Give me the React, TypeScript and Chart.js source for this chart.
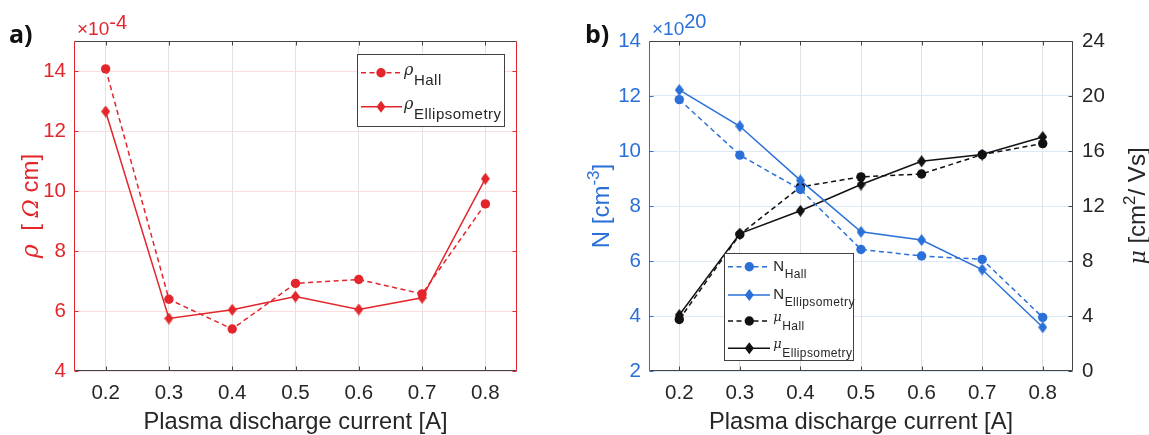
import React, { useEffect, useRef } from 'react';
import { Chart, registerables } from 'chart.js';

Chart.register(...registerables);

// ---------- data ----------
const currents = [0.2, 0.3, 0.4, 0.5, 0.6, 0.7, 0.8];
const xTickLabels = ['0.2', '0.3', '0.4', '0.5', '0.6', '0.7', '0.8'];
const rhoHall = [14.07, 6.39, 5.4, 6.92, 7.05, 6.57, 9.57];
const rhoEllipsometry = [12.65, 5.75, 6.04, 6.48, 6.05, 6.44, 10.41];
const nHall = [11.87, 9.85, 8.6, 6.42, 6.18, 6.06, 3.95];
const nEllipsometry = [12.22, 10.9, 8.93, 7.06, 6.76, 5.69, 3.59];
const muHall = [3.75, 9.93, 13.39, 14.12, 14.33, 15.74, 16.54];
const muEllipsometry = [4.07, 10.0, 11.65, 13.56, 15.25, 15.74, 17.02];
const rhoTicks = [4, 6, 8, 10, 12, 14];
const nTicks = [2, 4, 6, 8, 10, 12, 14];
const muTicks = [0, 4, 8, 12, 16, 20, 24];

// ---------- styles ----------
const RED = '#e3262b';
const BLUE = '#2a70d8';
const BLACK = '#111111';
const AXIS_GRAY = '#444444';
const TEXT_DARK = '#262626';
const SANS = '"Liberation Sans", Arial, sans-serif';
const SERIF = '"DejaVu Serif", "Liberation Serif", serif';
const DASH = [5, 3.5];
const TICK_FONT = { family: SANS, size: 20.5 };

function makeDiamond(color: string, w: number, h: number) {
  const c = document.createElement('canvas');
  c.width = w;
  c.height = h;
  const g = c.getContext('2d')!;
  g.fillStyle = color;
  g.beginPath();
  g.moveTo(w / 2, 0);
  g.lineTo(w, h / 2);
  g.lineTo(w / 2, h);
  g.lineTo(0, h / 2);
  g.closePath();
  g.fill();
  return c;
}

function drawMarker(ctx: CanvasRenderingContext2D, kind: string, x: number, y: number, color: string) {
  ctx.save();
  ctx.fillStyle = color;
  ctx.beginPath();
  if (kind === 'circle') {
    ctx.arc(x, y, 4.7, 0, Math.PI * 2);
  } else {
    ctx.moveTo(x, y - 6);
    ctx.lineTo(x + 4.5, y);
    ctx.lineTo(x, y + 6);
    ctx.lineTo(x - 4.5, y);
    ctx.closePath();
  }
  ctx.fill();
  ctx.restore();
}

type Seg = { t: string; font: string; dy?: number; color: string; ls?: string };

function drawSegs(ctx: CanvasRenderingContext2D, segs: Seg[], x: number, y: number, rotate: boolean, center: boolean) {
  ctx.save();
  ctx.translate(x, y);
  if (rotate) ctx.rotate(-Math.PI / 2);
  ctx.textBaseline = 'alphabetic';
  ctx.textAlign = 'left';
  let total = 0;
  const widths: number[] = [];
  for (const s of segs) {
    ctx.font = s.font;
    (ctx as any).letterSpacing = s.ls || '0px';
    const w = ctx.measureText(s.t).width;
    widths.push(w);
    total += w;
  }
  let cx = center ? -total / 2 : 0;
  segs.forEach((s, i) => {
    ctx.font = s.font;
    (ctx as any).letterSpacing = s.ls || '0px';
    ctx.fillStyle = s.color;
    ctx.fillText(s.t, cx, s.dy || 0);
    cx += widths[i];
  });
  ctx.restore();
}

type YTickSpec = { id: string; values: number[]; color: string; left: boolean; right: boolean };

function drawFrame(chart: any, colors: { top: string; bottom: string; left: string; right: string }, ySpecs: YTickSpec[]) {
  const { ctx, chartArea: a } = chart;
  const L = Math.round(a.left) + 0.5;
  const R = Math.round(a.right) - 0.5;
  const T = Math.round(a.top) + 0.5;
  const B = Math.round(a.bottom) - 0.5;
  ctx.save();
  ctx.lineWidth = 1;
  ctx.setLineDash([]);
  const line = (x1: number, y1: number, x2: number, y2: number, c: string) => {
    ctx.strokeStyle = c;
    ctx.beginPath();
    ctx.moveTo(x1, y1);
    ctx.lineTo(x2, y2);
    ctx.stroke();
  };
  const xs = chart.scales.x;
  for (const v of currents) {
    const px = Math.round(xs.getPixelForValue(v)) + 0.5;
    line(px, B, px, B - 4, colors.bottom);
    line(px, T, px, T + 4, colors.top);
  }
  for (const s of ySpecs) {
    const sc = chart.scales[s.id];
    for (const v of s.values) {
      const py = Math.round(sc.getPixelForValue(v)) + 0.5;
      if (s.left) line(L, py, L + 4, py, s.color);
      if (s.right) line(R, py, R - 4, py, s.color);
    }
  }
  line(L, T, R, T, colors.top);
  line(L, B, R, B, colors.bottom);
  line(L, T, L, B, colors.left);
  line(R, T, R, B, colors.right);
  ctx.restore();
}

type LegendEntry = {
  color: string;
  dashed: boolean;
  marker: string;
  main: string;
  mainFont: string;
  mainDy: number;
  sub: string;
  subFont: string;
  subDy: number;
  y: number;
};

function drawLegend(
  ctx: CanvasRenderingContext2D,
  box: { x: number; y: number; w: number; h: number },
  entries: LegendEntry[],
  lineX0: number,
  lineX1: number,
  markerX: number,
  textX: number,
  subLs: string
) {
  ctx.save();
  ctx.fillStyle = '#ffffff';
  ctx.fillRect(box.x, box.y, box.w, box.h);
  ctx.strokeStyle = '#404040';
  ctx.lineWidth = 1;
  ctx.strokeRect(Math.round(box.x) + 0.5, Math.round(box.y) + 0.5, Math.round(box.w), Math.round(box.h));
  for (const e of entries) {
    ctx.strokeStyle = e.color;
    ctx.lineWidth = 1.5;
    ctx.setLineDash(e.dashed ? DASH : []);
    ctx.beginPath();
    ctx.moveTo(lineX0, e.y);
    ctx.lineTo(lineX1, e.y);
    ctx.stroke();
    ctx.setLineDash([]);
    drawMarker(ctx, e.marker, markerX, e.y, e.color);
    ctx.font = e.mainFont;
    const w = ctx.measureText(e.main).width;
    drawSegs(ctx, [{ t: e.main, font: e.mainFont, dy: e.mainDy, color: TEXT_DARK }], textX, e.y, false, false);
    drawSegs(ctx, [{ t: e.sub, font: e.subFont, dy: e.subDy, color: TEXT_DARK, ls: subLs }], textX + w + 0.5, e.y, false, false);
  }
  ctx.restore();
}

const xScaleBase = (x: any) => ({
  type: 'linear',
  min: 0.15,
  max: 0.85,
  afterBuildTicks: (s: any) => {
    s.ticks = currents.map((v) => ({ value: v }));
  },
  afterFit: (s: any) => {
    s.height = 64;
  },
  ticks: {
    color: TEXT_DARK,
    font: TICK_FONT,
    padding: 10,
    maxRotation: 0,
    autoSkip: false,
    callback: (_v: any, i: number) => xTickLabels[i],
  },
  grid: { color: '#e2e2e2', lineWidth: 1, drawTicks: false },
  border: { display: false },
  title: {
    display: true,
    text: 'Plasma discharge current [A]',
    color: TEXT_DARK,
    font: { family: SANS, size: 23.7, lineHeight: 1 },
    padding: { top: 0, bottom: 0.5 },
  },
  ...x,
});

function PanelA() {
  const ref = useRef<HTMLCanvasElement>(null);
  useEffect(() => {
    const diamond = makeDiamond(RED, 9, 12);
    const deco = {
      id: 'decoA',
      beforeDatasetsDraw(chart: any) {
        drawFrame(chart, { top: AXIS_GRAY, bottom: AXIS_GRAY, left: RED, right: RED }, [
          { id: 'y', values: rhoTicks, color: RED, left: true, right: true },
        ]);
      },
      afterDraw(chart: any) {
        const ctx = chart.ctx;
        drawSegs(ctx, [{ t: 'a)', font: `bold 25px "Open Sans", ${SANS}`, color: '#111' }], 9, 43, false, false);
        drawSegs(
          ctx,
          [
            { t: '×10', font: `19px ${SANS}`, color: RED },
            { t: '-4', font: `20px ${SANS}`, color: RED, dy: -6 },
          ],
          77,
          35,
          false,
          false
        );
        drawSegs(
          ctx,
          [
            { t: 'ρ', font: `italic 24px ${SERIF}`, color: RED },
            { t: '  [ ', font: `24px ${SANS}`, color: RED },
            { t: 'Ω', font: `italic 22px ${SERIF}`, color: RED },
            { t: ' cm]', font: `24px ${SANS}`, color: RED },
          ],
          38,
          206,
          true,
          true
        );
        drawLegend(
          ctx,
          { x: 357, y: 54, w: 147, h: 72 },
          [
            { color: RED, dashed: true, marker: 'circle', main: 'ρ', mainFont: `italic 16px ${SERIF}`, mainDy: 2.5, sub: 'Hall', subFont: `15px ${SANS}`, subDy: 12.3, y: 72.7 },
            { color: RED, dashed: false, marker: 'diamond', main: 'ρ', mainFont: `italic 16px ${SERIF}`, mainDy: 2.5, sub: 'Ellipsometry', subFont: `15px ${SANS}`, subDy: 12.3, y: 106.7 },
          ],
          361,
          402,
          381,
          404,
          '0.5px'
        );
      },
    };
    const chart = new Chart(ref.current!, {
      type: 'line',
      data: {
        datasets: [
          {
            data: currents.map((x, i) => ({ x, y: rhoHall[i] })),
            borderColor: RED,
            backgroundColor: RED,
            borderWidth: 1.5,
            borderDash: DASH,
            pointStyle: 'circle',
            pointRadius: 4.7,
            pointBorderWidth: 0,
          },
          {
            data: currents.map((x, i) => ({ x, y: rhoEllipsometry[i] })),
            borderColor: RED,
            backgroundColor: RED,
            borderWidth: 1.5,
            pointStyle: diamond,
            pointRadius: 6,
            pointBorderWidth: 0,
          },
        ],
      },
      options: {
        responsive: false,
        animation: false,
        layout: { padding: { left: 0, top: 41, right: 43, bottom: 0 } },
        plugins: { legend: { display: false }, tooltip: { enabled: false } },
        scales: {
          x: xScaleBase({}),
          y: {
            type: 'linear',
            min: 4,
            max: 15,
            afterBuildTicks: (s: any) => {
              s.ticks = rhoTicks.map((v) => ({ value: v }));
            },
            afterFit: (s: any) => {
              s.width = 74;
            },
            ticks: { color: RED, font: TICK_FONT, padding: 8, callback: (v: any) => String(v) },
            grid: { color: '#fbdcdc', lineWidth: 1, drawTicks: false },
            border: { display: false },
          },
        },
      } as any,
      plugins: [deco],
    });
    return () => chart.destroy();
  }, []);
  return <canvas ref={ref} width={560} height={435} style={{ position: 'absolute', left: 0, top: 0, width: 560, height: 435 }} />;
}

function PanelB() {
  const ref = useRef<HTMLCanvasElement>(null);
  useEffect(() => {
    const diamondBlue = makeDiamond(BLUE, 9, 12);
    const diamondBlack = makeDiamond(BLACK, 9, 12);
    const deco = {
      id: 'decoB',
      beforeDatasetsDraw(chart: any) {
        drawFrame(chart, { top: AXIS_GRAY, bottom: AXIS_GRAY, left: BLUE, right: AXIS_GRAY }, [
          { id: 'yN', values: nTicks, color: BLUE, left: true, right: false },
          { id: 'yMu', values: muTicks, color: AXIS_GRAY, left: false, right: true },
        ]);
      },
      afterDraw(chart: any) {
        const ctx = chart.ctx;
        drawSegs(ctx, [{ t: 'b)', font: `bold 25px "Open Sans", ${SANS}`, color: '#111' }], 10, 43, false, false);
        drawSegs(
          ctx,
          [
            { t: '×10', font: `19px ${SANS}`, color: BLUE },
            { t: '20', font: `20px ${SANS}`, color: BLUE, dy: -7 },
          ],
          77,
          35,
          false,
          false
        );
        drawSegs(
          ctx,
          [
            { t: 'N [cm', font: `24px ${SANS}`, color: BLUE },
            { t: '-3', font: `17px ${SANS}`, color: BLUE, dy: -10 },
            { t: ']', font: `24px ${SANS}`, color: BLUE },
          ],
          34,
          206,
          true,
          true
        );
        drawSegs(
          ctx,
          [
            { t: 'μ', font: `italic 22px ${SERIF}`, color: TEXT_DARK },
            { t: ' [cm', font: `24px ${SANS}`, color: TEXT_DARK },
            { t: '2', font: `17px ${SANS}`, color: TEXT_DARK, dy: -10 },
            { t: '/ Vs]', font: `24px ${SANS}`, color: TEXT_DARK },
          ],
          570,
          206,
          true,
          true
        );
        drawLegend(
          ctx,
          { x: 149.3, y: 253.3, w: 129, h: 106.7 },
          [
            { color: BLUE, dashed: true, marker: 'circle', main: 'N', mainFont: `15px ${SANS}`, mainDy: 4, sub: 'Hall', subFont: `12px ${SANS}`, subDy: 11.3, y: 266.7 },
            { color: BLUE, dashed: false, marker: 'diamond', main: 'N', mainFont: `15px ${SANS}`, mainDy: 4, sub: 'Ellipsometry', subFont: `12px ${SANS}`, subDy: 11.3, y: 295 },
            { color: BLACK, dashed: true, marker: 'circle', main: 'μ', mainFont: `italic 13px ${SERIF}`, mainDy: 0, sub: 'Hall', subFont: `12px ${SANS}`, subDy: 9, y: 321 },
            { color: BLACK, dashed: false, marker: 'diamond', main: 'μ', mainFont: `italic 13px ${SERIF}`, mainDy: 0, sub: 'Ellipsometry', subFont: `12px ${SANS}`, subDy: 9, y: 348.3 },
          ],
          153,
          195,
          174.3,
          198.3,
          '0.4px'
        );
      },
    };
    const chart = new Chart(ref.current!, {
      type: 'line',
      data: {
        datasets: [
          {
            data: currents.map((x, i) => ({ x, y: nHall[i] })),
            yAxisID: 'yN',
            borderColor: BLUE,
            backgroundColor: BLUE,
            borderWidth: 1.5,
            borderDash: DASH,
            pointStyle: 'circle',
            pointRadius: 4.7,
            pointBorderWidth: 0,
          },
          {
            data: currents.map((x, i) => ({ x, y: nEllipsometry[i] })),
            yAxisID: 'yN',
            borderColor: BLUE,
            backgroundColor: BLUE,
            borderWidth: 1.5,
            pointStyle: diamondBlue,
            pointRadius: 6,
            pointBorderWidth: 0,
          },
          {
            data: currents.map((x, i) => ({ x, y: muHall[i] })),
            yAxisID: 'yMu',
            borderColor: BLACK,
            backgroundColor: BLACK,
            borderWidth: 1.5,
            borderDash: DASH,
            pointStyle: 'circle',
            pointRadius: 4.7,
            pointBorderWidth: 0,
          },
          {
            data: currents.map((x, i) => ({ x, y: muEllipsometry[i] })),
            yAxisID: 'yMu',
            borderColor: BLACK,
            backgroundColor: BLACK,
            borderWidth: 1.5,
            pointStyle: diamondBlack,
            pointRadius: 6,
            pointBorderWidth: 0,
          },
        ],
      },
      options: {
        responsive: false,
        animation: false,
        layout: { padding: { left: 0, top: 41, right: 0, bottom: 0 } },
        plugins: { legend: { display: false }, tooltip: { enabled: false } },
        scales: {
          x: xScaleBase({}),
          yN: {
            type: 'linear',
            position: 'left',
            min: 2,
            max: 14,
            afterBuildTicks: (s: any) => {
              s.ticks = nTicks.map((v) => ({ value: v }));
            },
            afterFit: (s: any) => {
              s.width = 74;
            },
            ticks: { color: BLUE, font: TICK_FONT, padding: 8, callback: (v: any) => String(v) },
            grid: { color: '#dde9f9', lineWidth: 1, drawTicks: false },
            border: { display: false },
          },
          yMu: {
            type: 'linear',
            position: 'right',
            min: 0,
            max: 24,
            afterBuildTicks: (s: any) => {
              s.ticks = muTicks.map((v) => ({ value: v }));
            },
            afterFit: (s: any) => {
              s.width = 76;
            },
            ticks: { color: TEXT_DARK, font: TICK_FONT, padding: 9, callback: (v: any) => String(v) },
            grid: { display: false, drawTicks: false },
            border: { display: false },
          },
        },
      } as any,
      plugins: [deco],
    });
    return () => chart.destroy();
  }, []);
  return <canvas ref={ref} width={574} height={435} style={{ position: 'absolute', left: 575, top: 0, width: 574, height: 435 }} />;
}

export default function App() {
  return (
    <div style={{ position: 'fixed', left: 0, top: 0, width: 1149, height: 435, background: '#ffffff', overflow: 'hidden' }}>
      <PanelA />
      <PanelB />
    </div>
  );
}
